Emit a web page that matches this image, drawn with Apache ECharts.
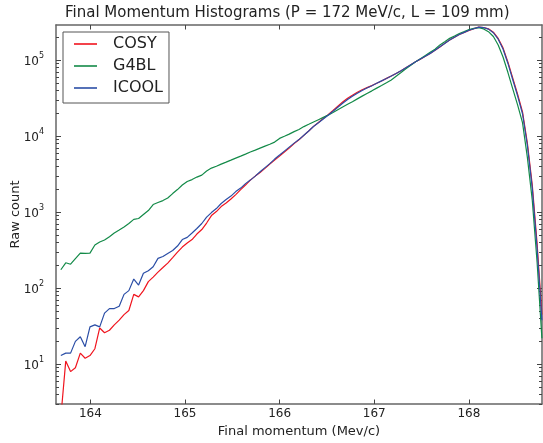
<!DOCTYPE html>
<html>
<head>
<meta charset="utf-8">
<script src="https://cdn.jsdelivr.net/npm/echarts@6/dist/echarts.min.js"></script>
<style>
html,body{margin:0;padding:0;background:#fff;}
#chart{width:543px;height:443px;}
</style>
</head>
<body>
<div id="chart"></div>
<script>
// Bin centres (MeV/c)
const momentum = [163.687,163.739,163.790,163.841,163.893,163.944,163.995,164.047,164.098,164.149,
164.201,164.252,164.304,164.355,164.406,164.458,164.509,164.560,164.612,164.663,
164.714,164.766,164.817,164.869,164.920,164.971,165.023,165.074,165.125,165.177,
165.228,165.279,165.331,165.382,165.434,165.485,165.536,165.588,165.639,165.690,
165.742,165.793,165.845,165.896,165.947,165.999,166.050,166.101,166.153,166.204,
166.256,166.307,166.358,166.410,166.461,166.512,166.564,166.615,166.666,166.718,
166.769,166.821,166.872,166.923,166.975,167.026,167.077,167.129,167.180,167.231,
167.283,167.334,167.386,167.437,167.488,167.540,167.591,167.642,167.694,167.745,
167.797,167.848,167.899,167.951,168.002,168.053,168.105,168.156,168.207,168.259,
168.310,168.361,168.413,168.464,168.515,168.567,168.618,168.670,168.721,168.772];

const cosy = [2,11,8,9,14,12,13,16,30,26,
28,33,38,45,51,83,77,93,122,140,
163,187,214,253,299,348,393,436,516,591,
720,903,1019,1186,1318,1489,1706,1985,2275,2644,
2985,3320,3770,4295,4845,5470,6180,6970,7980,8960,
10250,11700,13450,15100,17050,19200,21800,24800,28100,31500,
34600,37800,40800,43500,46300,49800,53300,57600,61800,66900,
72600,79600,86900,95300,103100,112800,122500,134900,149200,166300,
183500,200400,217000,232200,246800,259600,272000,268500,258000,233000,
193000,145000,94000,58000,35800,20900,8200,2300,390,45];

const g4bl = [175,216,207,245,290,288,290,370,405,430,
476,532,582,638,710,805,826,931,1052,1260,
1339,1422,1535,1758,1985,2275,2529,2685,2897,3076,
3474,3802,4018,4295,4560,4845,5150,5470,5810,6180,
6560,6970,7400,7820,8360,9350,9960,10640,11480,12270,
13370,14320,15350,16480,17660,18920,20510,22280,24170,26230,
28450,30970,33650,36480,39470,42850,46380,50350,54950,61430,
68700,77090,85950,95280,104700,115300,126700,139000,158800,175000,
193600,208000,223900,237700,252300,261800,266700,257600,237000,204400,
158300,110200,68700,41960,25800,15070,5310,1445,221,22];

const icool = [13,14,14,20,23,17,31,33,31,47,
54,54,58,83,93,132,110,157,170,192,
247,261,286,313,359,437,467,532,610,710,
863,989,1117,1300,1466,1630,1867,2076,2377,2644,
2985,3402,3861,4357,4997,5640,6365,7180,8105,9015,
10300,11720,13400,15000,16870,18880,21300,24040,27120,30340,
33420,36730,39990,42970,46060,49660,53440,57440,61950,66640,
72780,79430,87080,95060,103300,112500,122800,134700,149600,166000,
183800,200000,217300,231900,247100,259200,272300,267400,255900,229300,
188500,140100,90540,55210,33980,19720,7640,2075,338,38];

const seriesNames = ['COSY','G4BL','ICOOL'];
const xTicks = [164,165,166,167,168];
const yMajor = [10,100,1000,10000,100000];
const yMinor = [3,4,5,6,7,8,9,20,30,40,50,60,70,80,90,200,300,400,500,600,700,800,900,
2000,3000,4000,5000,6000,7000,8000,9000,20000,30000,40000,50000,60000,70000,80000,90000,200000];

const X_MIN = 163.636, X_MAX = 168.773, Y_MIN = 3, Y_MAX = 290000;
const FONT = 'DejaVu Sans';
const AX = '#666666';
const TK = '#444444';
const TXT = '#222222';
const colors = ['#f0141e','#138a48','#2b4ea6'];

const chart = echarts.init(document.getElementById('chart'), null, {renderer:'canvas'});

function xAx(pos, labels){
  return {
    type:'value', position:pos, min:X_MIN, max:X_MAX, gridIndex:0,
    axisLine:{show:true, onZero:false, lineStyle:{color:AX, width:1.5}},
    axisTick:{show:true, inside:true, length:4.5, customValues:xTicks, lineStyle:{color:TK, width:1}},
    axisLabel:{show:labels, customValues:xTicks, margin:4, color:TXT, fontFamily:FONT, fontSize:12},
    splitLine:{show:false},
    name: labels ? 'Final momentum (Mev/c)' : '',
    nameLocation:'middle', nameGap:21, nameMoveOverlap:false,
    nameTextStyle:{color:TXT, fontFamily:FONT, fontSize:13}
  };
}
function yAx(pos, major, labels){
  return {
    type:'log', logBase:10, position:pos, min:Y_MIN, max:Y_MAX, gridIndex:0,
    axisLine:{show:major, onZero:false, lineStyle:{color:AX, width:1.5}},
    axisTick:{show:true, inside:true, length: major ? 5 : 3,
      customValues: major ? yMajor : yMinor, lineStyle:{color:TK, width:1}},
    axisLabel:{show:labels, customValues:yMajor, margin:12, color:TXT, fontFamily:FONT,
      formatter: v => '{b|10}{e|' + Math.round(Math.log10(v)) + '}',
      rich:{ b:{fontSize:12, fontFamily:FONT, color:TXT, lineHeight:16, verticalAlign:'bottom'},
             e:{fontSize:8, fontFamily:FONT, color:TXT, lineHeight:16, verticalAlign:'top'} } },
    splitLine:{show:false},
    name: labels ? 'Raw count' : '',
    nameLocation:'middle', nameGap:34, nameMoveOverlap:false,
    nameTextStyle:{color:TXT, fontFamily:FONT, fontSize:13}
  };
}

const data = [cosy, g4bl, icool];

chart.setOption({
  animation:false,
  backgroundColor:'#ffffff',
  title:{
    text:'Final Momentum Histograms (P = 172 MeV/c, L = 109 mm)',
    left:65, top:6, padding:0,
    textStyle:{fontFamily:FONT, fontSize:15, fontWeight:'normal', color:TXT}
  },
  grid:{left:56, right:1, top:25, bottom:39, containLabel:false, outerBoundsMode:'none'},
  legend:{
    orient:'vertical', left:63, top:32,
    padding:[4,6,7,11], itemGap:6,
    itemWidth:23, itemHeight:1.6, icon:'rect',
    borderColor:'#555', borderWidth:1, backgroundColor:'#fff',
    textStyle:{fontFamily:FONT, fontSize:16, color:TXT, lineHeight:16, padding:[0,0,0,11]},
    data:seriesNames
  },
  xAxis:[ xAx('bottom', true), xAx('top', false) ],
  yAxis:[ yAx('left', true, true), yAx('left', false, false), yAx('right', true, false), yAx('right', false, false) ],
  series: seriesNames.map((n,k) => ({
    name:n, type:'line', xAxisIndex:0, yAxisIndex:0,
    symbol:'none', showSymbol:false, clip:true,
    color:colors[k],
    lineStyle:{width:1.2, color:colors[k]},
    data: momentum.map((x,i) => [x, data[k][i]])
  }))
});
</script>
</body>
</html>
